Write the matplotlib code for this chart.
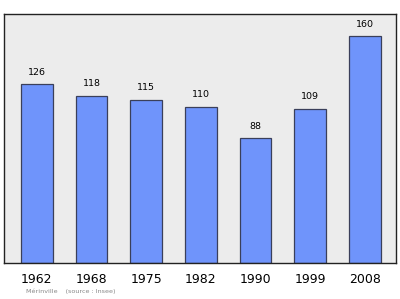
import matplotlib
matplotlib.use("Agg")
import matplotlib.pyplot as plt

years = ["1962", "1968", "1975", "1982", "1990", "1999", "2008"]
population = [126, 118, 115, 110, 88, 109, 160]

fig = plt.figure(figsize=(4.0, 2.99), dpi=100)
fig.patch.set_facecolor("white")
ax = fig.add_axes([4/400, 1 - 263/299, 392/400, 249/299])
ax.set_facecolor("#ececec")
x = list(range(len(years)))
ax.bar(x, population, width=0.576, color="#6f94fb", edgecolor="#3a3f5a", linewidth=0.9, zorder=2)
for xi, v in zip(x, population):
    ax.annotate(str(v), (xi, v), xytext=(0, 5.5), textcoords="offset points",
                ha="center", va="bottom", fontsize=6.8, color="black")
ax.set_xlim(-0.6, 6.57)
ax.set_ylim(0, 175.7)
ax.set_xticks(x)
ax.set_xticklabels(years, fontsize=9)
ax.tick_params(axis="x", length=0, pad=7)
ax.set_yticks([])
for s in ax.spines.values():
    s.set_color("#222222")
    s.set_linewidth(1.0)
fig.text(26/400, 1 - 291/299, "Mérinville    (source : Insee)", fontsize=4.6, color="#888888", va="center")
fig.savefig("out.png", dpi=100)
